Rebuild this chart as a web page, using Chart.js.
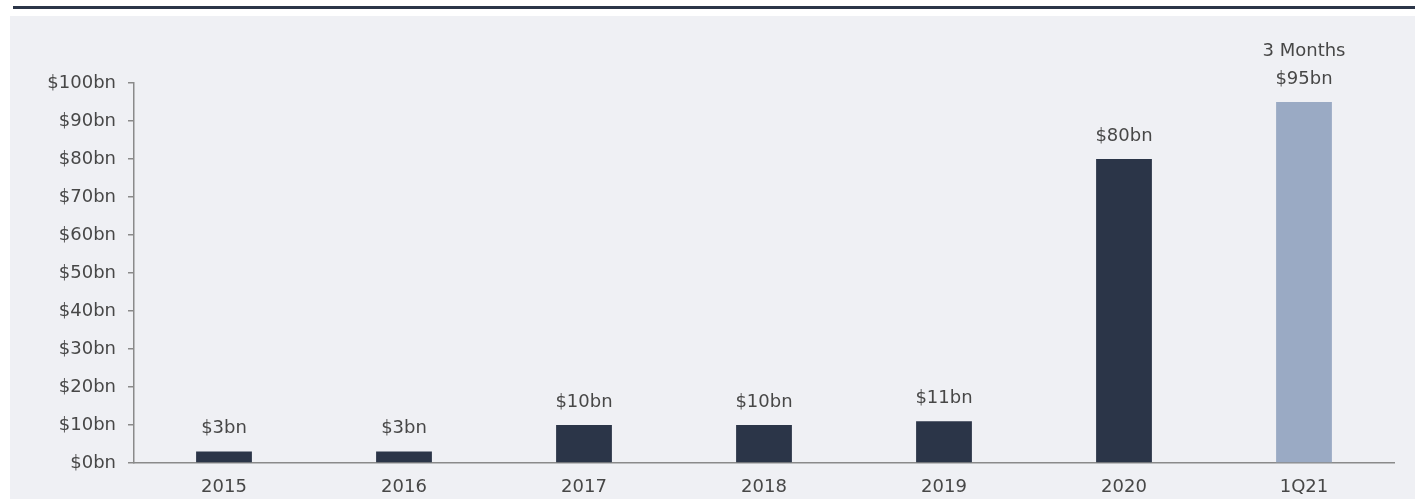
<!DOCTYPE html>
<html>
<head>
<meta charset="utf-8">
<script src="https://cdn.jsdelivr.net/npm/chart.js@4.4.1/dist/chart.umd.min.js"></script>
<style>
  body { margin: 0; background: #fff; width: 1415px; height: 499px; overflow: hidden; position: relative; }
  #topline { position: absolute; left: 13px; top: 6px; width: 1402px; height: 3px; background: #2b3548; }
  #panel { position: absolute; left: 10px; top: 16px; width: 1405px; height: 483px; background: #eff0f4; }
  #wrap { position: absolute; left: 0; top: 0; width: 1415px; height: 499px; }
</style>
</head>
<body>
<div id="topline"></div>
<div id="panel"></div>
<div id="wrap"><canvas id="chart"></canvas></div>
<script>
const categories = ["2015", "2016", "2017", "2018", "2019", "2020", "1Q21"];
const values = [3, 3, 10, 10, 11, 80, 95];
const barColors = ["#2b3548", "#2b3548", "#2b3548", "#2b3548", "#2b3548", "#2b3548", "#9aaac4"];
const valueLabels = ["$3bn", "$3bn", "$10bn", "$10bn", "$11bn", "$80bn", "$95bn"];
const extraLabels = ["", "", "", "", "", "", "3 Months"];

const FONT = "'DejaVu Sans', sans-serif";
const TEXT = "#474747";

// value labels over the bars
const barLabels = {
    id: 'barLabels',
    afterDatasetsDraw(chart) {
        const ctx = chart.ctx;
        const meta = chart.getDatasetMeta(0);
        ctx.save();
        ctx.font = "18px " + FONT;
        ctx.fillStyle = TEXT;
        ctx.textAlign = 'center';
        ctx.textBaseline = 'middle';
        meta.data.forEach((bar, i) => {
            ctx.fillText(valueLabels[i], bar.x, bar.y - 23);
            if (extraLabels[i]) ctx.fillText(extraLabels[i], bar.x, bar.y - 51);
        });
        ctx.restore();
    }
};

new Chart(document.getElementById('chart'), {
    type: 'bar',
    data: {
        labels: categories,
        datasets: [{ data: values, backgroundColor: barColors, borderWidth: 0, categoryPercentage: 1, barPercentage: 0.31 }]
    },
    options: {
        responsive: true,
        maintainAspectRatio: false,
        animation: false,
        layout: { padding: { top: 83, right: 21, left: 0, bottom: 0 } },
        plugins: { legend: { display: false }, tooltip: { enabled: false } },
        scales: {
            x: {
                grid: { display: false, drawTicks: false },
                border: { display: true, color: '#8a8a8a', width: 1.5 },
                ticks: { color: TEXT, font: { family: FONT, size: 18 }, padding: 14 },
                afterFit: (s) => { s.height = 36; }
            },
            y: {
                min: 0, max: 100,
                grid: { drawOnChartArea: false, tickLength: 6, color: '#8a8a8a', lineWidth: 1.5 },
                border: { display: true, color: '#8a8a8a', width: 1.5 },
                ticks: { stepSize: 10, color: TEXT, font: { family: FONT, size: 18 }, padding: 12, callback: (v) => '$' + v + 'bn' },
                afterFit: (s) => { s.width = 134; }
            }
        }
    },
    plugins: [barLabels]
});
</script>
</body>
</html>
